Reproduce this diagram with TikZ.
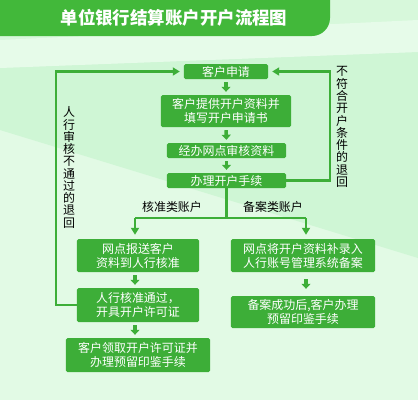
\documentclass[tikz,border=0pt]{standalone}
\usepackage{fontspec}
\setmainfont{Noto Sans CJK SC}
\usetikzlibrary{arrows.meta}
\definecolor{bggreen}{HTML}{E2FAE5}
\definecolor{bgband}{HTML}{CFF6D5}
\definecolor{bglight}{HTML}{E6FBE9}
\definecolor{boxgreen}{HTML}{3DAE38}
\definecolor{bannergreen}{HTML}{42B83A}
\tikzset{
  box/.style={fill=boxgreen, rounded corners=1.5bp, inner sep=0pt, align=center,
    text=white, font=\fontsize{12}{14}\selectfont},
  smallarr/.style={draw=boxgreen, line width=3.5bp, -{Triangle[width=9bp,length=5bp]}},
  loopline/.style={draw=boxgreen, line width=2.8bp},
  looparr/.style={loopline, -{Triangle[width=8bp,length=7bp]}},
  lbl/.style={text=black, font=\fontsize{12}{12.3}\selectfont, inner sep=0pt, align=center}
}
\begin{document}
\begin{tikzpicture}[x=1bp,y=-1bp]
\useasboundingbox (0,0) rectangle (418,400);
% background
\fill[bggreen] (0,0) rectangle (418,400);
\fill[bgband!60!bggreen] (0,0) rectangle (418,68);
\fill[bgband] (0,68) -- (418,52) -- (418,258) -- (0,130) -- cycle;
\fill[bglight] (0,40) -- (418,20) -- (418,52) -- (0,68) -- cycle;
% banner
\fill[bannergreen, rounded corners=18bp] (-20,-20) -- (330,-20) -- (330,36) -- (-20,36) -- cycle;
\fill[bannergreen] (-20,-20) rectangle (300,36);
\node[text=white, font=\fontsize{17.5}{20}\selectfont\bfseries] (title) at (174,18) {单位银行结算账户开户流程图};
% boxes
\node[box, minimum width=84bp, minimum height=15bp] (ap) at (226,71.5) {客户申请};
\node[box, minimum width=130bp, minimum height=32bp] (b2) at (226,111) {客户提供开户资料并\\填写开户申请书};
\node[box, minimum width=119bp, minimum height=15bp] (b3) at (226.5,150.5) {经办网点审核资料};
\node[box, minimum width=119bp, minimum height=15bp] (b4) at (226.5,180.5) {办理开户手续};
\node[box, minimum width=122bp, minimum height=33bp] (l1) at (138,255.5) {网点报送客户\\资料到人行核准};
\node[box, minimum width=122bp, minimum height=34bp] (l2) at (138,305) {人行核准通过，\\开具开户许可证};
\node[box, minimum width=144bp, minimum height=34bp] (l3) at (138,355) {客户领取开户许可证并\\办理预留印鉴手续};
\node[box, minimum width=144bp, minimum height=33bp] (r1) at (303,255.5) {网点将开户资料补录入\\人行账号管理系统备案};
\node[box, minimum width=144bp, minimum height=32bp] (r2) at (303,312) {备案成功后,客户办理\\预留印鉴手续};
% labels
\node[lbl] (kz) at (172,207) {核准类账户};
\node[lbl] (ba) at (273,207) {备案类账户};
\node[lbl] (lt) at (69,167.5) {人\\行\\审\\核\\不\\通\\过\\的\\退\\回};
\node[lbl] (rt) at (342,127) {不\\符\\合\\开\\户\\条\\件\\的\\退\\回};
% coordinates
\coordinate (L) at (56,0);
\coordinate (R) at (330,0);
\coordinate (J) at (226.5,218);
\coordinate (BL) at (135,218);
\coordinate (BR) at (306,218);
% small arrows
\draw[smallarr, shorten <=3bp, shorten >=3bp] (ap.south) -- (b2.north);
\draw[smallarr, shorten <=3bp, shorten >=3bp] (b2.south) -- (b3.north);
\draw[smallarr, shorten <=3bp, shorten >=3bp] (b3.south) -- (b4.north);
\draw[smallarr, shorten <=3bp, shorten >=3bp] (l1.south -| BL) -- (l2.north -| BL);
\draw[smallarr, shorten <=3bp, shorten >=3bp] (l2.south -| BL) -- (l3.north -| BL);
\draw[smallarr, shorten <=7bp, shorten >=7bp] (r1.south -| BR) -- (r2.north -| BR);
% branch
\draw[loopline] (b4.south) -- (J);
\draw[loopline] (BL) -- (BR);
\draw[looparr, shorten >=4bp] (BL) -- (BL |- l1.north);
\draw[looparr, shorten >=4bp] (BR) -- (BR |- r1.north);
% loops
\draw[looparr, shorten >=4bp, line join=miter] (l2.west) -- (l2.west -| L) -- (ap.west -| L) -- (ap.west);
\draw[looparr, shorten >=4bp, line join=miter] (b4.east) -- (b4.east -| R) -- (ap.east -| R) -- (ap.east);
\end{tikzpicture}
\end{document}
